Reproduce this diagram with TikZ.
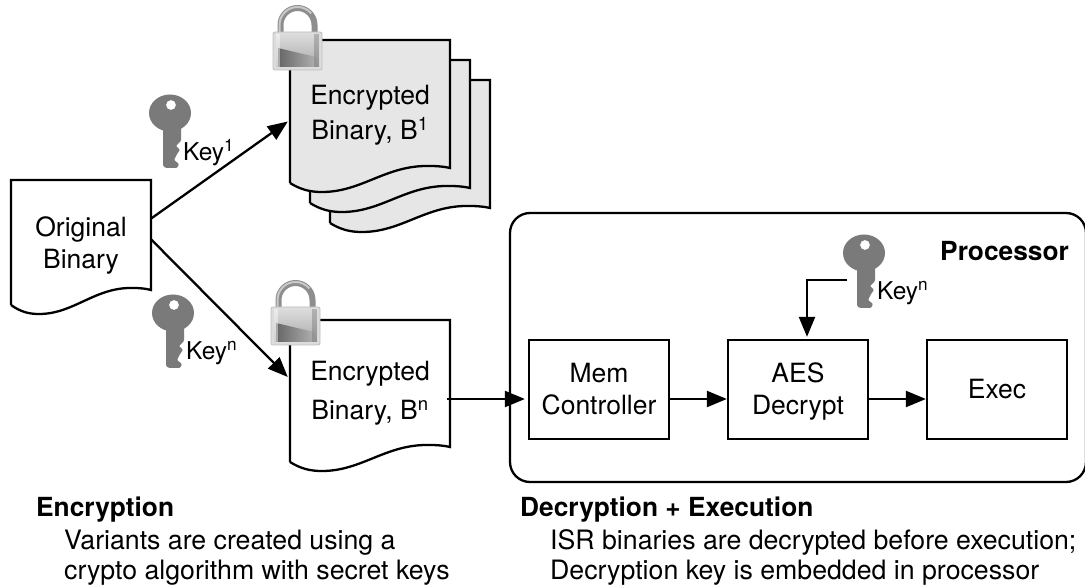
\documentclass[tikz,border=0pt]{standalone}
\usepackage{fontspec}
\setmainfont{TeX Gyre Heros}
\usetikzlibrary{arrows.meta}

\newcommand{\docsheet}[6]{
	\begin{scope}[shift={(#2,#3)}, x=#4pt]
		\draw [sheetline, fill=#6] (0,#5) -- (0,0) -- (1,0) -- (1,#5-15)
			.. controls (0.96,#5-16.5) and (0.92,#5-17) .. (0.87,#5-17)
			.. controls (0.6,#5-18) and (0.45,#5+9) .. (0.2,#5+9)
			.. controls (0.13,#5+9) and (0.07,#5+7) .. (0,#5);
		\node [sheet, minimum width=#4pt, minimum height=#5pt] (#1) at (0.5,#5/2) {};
	\end{scope}
}
\newcommand{\keyicon}[2]{
	\begin{scope}[shift={(#1,#2)}]
		\fill [keygrey, even odd rule] (0,0) ellipse [x radius=21, y radius=18.5] (1,-8) circle [radius=5];
		\fill [keygrey, rounded corners=1pt] (-7,10) -- (-7,53) -- (-4,55) -- (7,55) -- (9,51) -- (4,47) -- (7,41)
			-- (10,37) -- (6,33) -- (11,28) -- (11,10) -- cycle;
	\end{scope}
}
\newcommand{\lockicon}[2]{
	\begin{scope}[shift={(#1,#2)}]
		\draw [line width=6pt, color=lockdark] (7.5,3) -- (7.5,-7) arc [start angle=180, end angle=360, radius=17] -- (41.5,3);
		\draw [line width=2pt, color=locklight] (6.5,3) -- (6.5,-7) arc [start angle=180, end angle=320, radius=18];
		\draw [color=lockedge, fill=lockrim, rounded corners=2pt, line width=0.8pt] (0,0) rectangle (49,38);
		\shade [top color=lockrim, bottom color=lockdark!75] (3,2) rectangle (46,35);
		\shade [left color=lockdeep, right color=lockdark!70] (5,16) -- (43,25) -- (43,35) -- (5,35) -- cycle;
		\fill [white, opacity=0.45] (3,2) rectangle (7,35);
		\fill [lockdeep, opacity=0.35] (41,2) rectangle (46,35);
	\end{scope}
}

\begin{document}
\begin{tikzpicture}[x=1pt, y=-1pt]
	\tikzstyle{sheetline}=[line width=2.3pt, line join=miter, color=black]
	\tikzstyle{sheet}=[inner sep=0pt, align=center]
	\tikzstyle{unitbox}=[draw, line width=2.3pt, inner sep=0pt, minimum width=140pt, minimum height=99pt]
	\tikzstyle{flow}=[line width=2.3pt, -{Triangle[length=20pt, width=16pt]}]
	\tikzstyle{keylabel}=[inner sep=0pt, anchor=base west, font=\fontsize{24.5}{24.5}\selectfont]
	\tikzstyle{plainlabel}=[inner sep=0pt, anchor=base west, font=\fontsize{26.7}{26.7}\selectfont]
	\tikzstyle{headlabel}=[inner sep=0pt, anchor=base west, font=\fontsize{26.3}{26.3}\selectfont\bfseries]
	\tikzstyle{every node}=[font=\fontsize{26.5}{32}\selectfont]
	\definecolor{sheetgrey}{HTML}{E6E6E6}
	\definecolor{keygrey}{HTML}{7A7A7A}
	\definecolor{lockdark}{HTML}{8E8E8E}
	\definecolor{lockdeep}{HTML}{666666}
	\definecolor{locklight}{HTML}{C8C8C8}
	\definecolor{lockrim}{HTML}{DCDCDC}
	\definecolor{lockedge}{HTML}{BDBDBD}
	\useasboundingbox (0,0) rectangle (1085,585);

	\docsheet{orig}{11}{180}{140}{125}{white}
	\docsheet{encThree}{330}{80}{160}{143}{sheetgrey}
	\docsheet{encTwo}{310}{60}{160}{143}{sheetgrey}
	\docsheet{encOne}{290}{40}{160}{143}{sheetgrey}
	\docsheet{encN}{290}{320}{160}{142}{white}

	\node [sheet] (origText) at ([yshift=-3pt]orig) {Original\\Binary};
	\node [sheet, font=\fontsize{26.5}{35}\selectfont] (encOneText) at ([yshift=-4pt]encOne) {Encrypted\\Binary, B\textsuperscript{1}};
	\node [sheet, font=\fontsize{26.5}{39}\selectfont] (encNText) at ([yshift=-2pt]encN) {Encrypted\\Binary, B\textsuperscript{n}};

	\node [draw, line width=2.3pt, rounded corners=20pt, minimum width=576pt, minimum height=269pt, inner sep=0pt] (proc) at (798,347.5) {};
	\node [unitbox] (mem) at (599,389.5) {};
	\node [unitbox] (aes) at (798,389.5) {};
	\node [unitbox] (exec) at (997,389.5) {};
	\node [sheet] (memText) at (mem) {Mem\\Controller};
	\node [sheet] (aesText) at ([yshift=-2pt]aes) {AES\\Decrypt};
	\node [sheet] (execText) at (exec) {Exec};

	\keyicon{170}{113}
	\keyicon{173}{313}
	\keyicon{864}{253}
	\lockicon{273}{32}
	\lockicon{271}{307}

	\node [keylabel] (keyOne) at (183,161) {Key\textsuperscript{1}};
	\node [keylabel] (keyN) at (186,360) {Key\textsuperscript{n}};
	\node [keylabel] (keyProc) at (877,300) {Key\textsuperscript{n}};
	\node [headlabel] (procLabel) at (940,261) {Processor};

	\coordinate (keyLead) at (847,280);
	\draw [flow] ([yshift=24pt]orig.east) -- ([xshift=-2pt, yshift=-10pt]encOne.west);
	\draw [flow] ([yshift=3pt]orig.east) -- ([xshift=-2pt, yshift=14pt]encN.west);
	\draw [flow] ([xshift=-3pt, yshift=-8pt]encN.east) -- ([xshift=-3pt, yshift=-9.5pt]mem.west);
	\draw [flow] ([yshift=-9.5pt]mem.east) -- ([yshift=-9.5pt]aes.west);
	\draw [flow] ([yshift=-9.5pt]aes.east) -- ([yshift=-9.5pt]exec.west);
	\draw [flow, line join=miter, shorten >=2pt] (keyLead) -| ([xshift=9pt]aes.north);

	\node [headlabel] (encHead) at (36,516) {Encryption};
	\node [plainlabel] (encLineA) at (64,549) {Variants are created using a};
	\node [plainlabel] (encLineB) at (64,579) {crypto algorithm with secret keys};
	\node [headlabel] (decHead) at (520,516) {Decryption + Execution};
	\node [plainlabel] (decLineA) at (550,549) {ISR binaries are decrypted before execution;};
	\node [plainlabel] (decLineB) at (550,579) {Decryption key is embedded in processor};
\end{tikzpicture}
\end{document}
